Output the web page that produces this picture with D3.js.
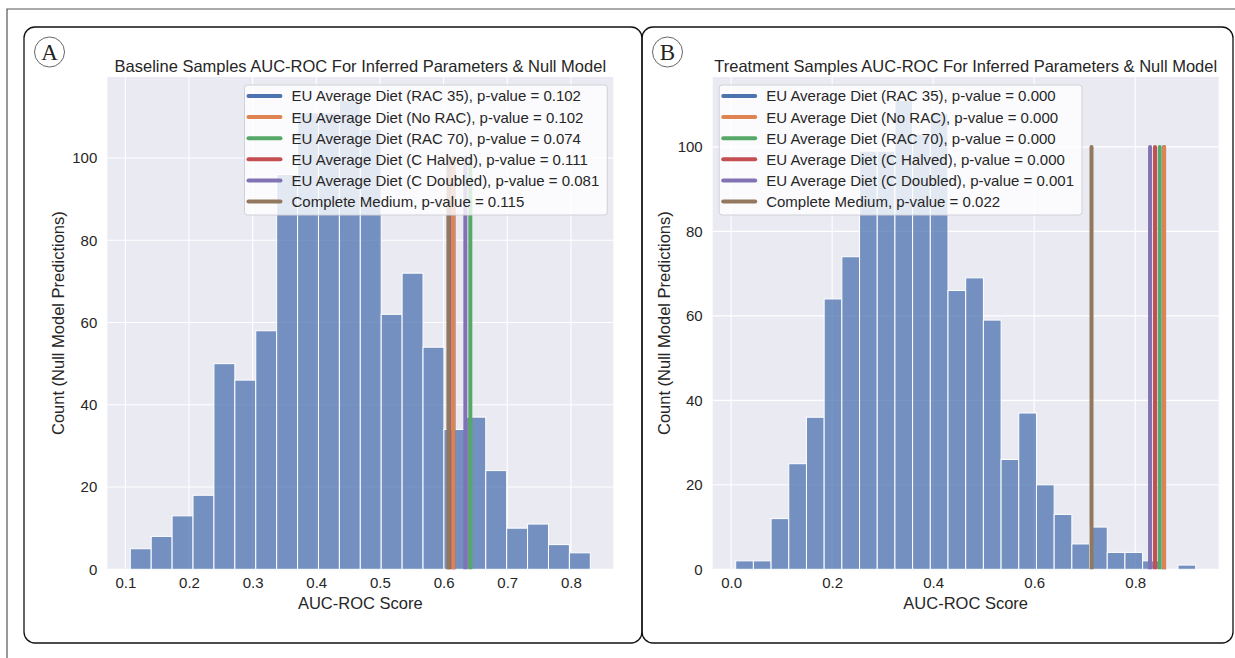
<!DOCTYPE html>
<html>
<head>
<meta charset="utf-8">
<script src="https://cdn.jsdelivr.net/npm/d3@7"></script>
<style>
  body { margin: 0; background: #fff; }
  svg text { font-family: "Liberation Sans", Arial, sans-serif; fill: #262626; }
</style>
</head>
<body>
<svg id="fig" width="1235" height="658"></svg>
<script>
// histogram bins (AUC-ROC of null model predictions)
const baseBinStart = 0.1078, baseBinWidth = 0.03285;
const baseCounts = [5, 8, 13, 18, 50, 46, 58, 96, 111, 111, 114, 107, 62, 72, 54, 34, 37, 24, 10, 11, 6, 4];
const treatBinStart = 0.0091, treatBinWidth = 0.03502;
const treatCounts = [2, 2, 12, 25, 36, 64, 74, 99, 99, 111, 103, 108, 66, 69, 59, 26, 37, 20, 13, 6, 10, 4, 4, 2, 0, 1];

// inferred parameter sets
const seriesNames = ["EU Average Diet (RAC 35)", "EU Average Diet (No RAC)", "EU Average Diet (RAC 70)",
  "EU Average Diet (C Halved)", "EU Average Diet (C Doubled)", "Complete Medium"];
const basePValues = ["0.102", "0.102", "0.074", "0.111", "0.081", "0.115"];
const baseAuc = [0.6154, 0.6154, 0.642, 0.6085, 0.6342, 0.6076];
const treatPValues = ["0.000", "0.000", "0.000", "0.000", "0.001", "0.022"];
const treatAuc = [0.857, 0.857, 0.8484, 0.8391, 0.8293, 0.7134];
const lineHeight = 100;

const baseTicks = [0.1, 0.2, 0.3, 0.4, 0.5, 0.6, 0.7, 0.8];
const treatTicks = [0.0, 0.2, 0.4, 0.6, 0.8];
const countTicks = [0, 20, 40, 60, 80, 100];

const palette = ["#4c72b0", "#dd8452", "#55a868", "#c44e52", "#8172b3", "#937860"];

const svg = d3.select("#fig");

// outer frame
svg.append("path")
  .attr("d", "M7,658 L7,9 L1235,9")
  .attr("fill", "none").attr("stroke", "#555").attr("stroke-width", 1.2);

function drawPanel(o) {
  // rounded panel box
  svg.append("rect")
    .attr("x", o.box[0]).attr("y", 27)
    .attr("width", o.box[1] - o.box[0]).attr("height", 616)
    .attr("rx", 11)
    .attr("fill", "none").attr("stroke", "#111").attr("stroke-width", 1.3);

  svg.append("circle")
    .attr("cx", o.box[0] + 25.5).attr("cy", 52).attr("r", 15)
    .attr("fill", "none").attr("stroke", "#666").attr("stroke-width", 1);
  svg.append("text")
    .attr("x", o.box[0] + 25.5).attr("y", 59.5)
    .attr("text-anchor", "middle")
    .style("font-family", "'Liberation Serif', 'DejaVu Serif', serif")
    .style("font-size", "23px")
    .style("fill", "#222")
    .text(o.letter);

  const left = o.left, top = 77, w = 506, h = 492.3;
  const bins = o.counts.map((c, i) => ({x0: o.binStart + i * o.binWidth, x1: o.binStart + (i + 1) * o.binWidth, n: c}));
  const lo = bins[0].x0, hi = bins[bins.length - 1].x1;
  const pad = (hi - lo) * 0.05;
  const x = d3.scaleLinear().domain([lo - pad, hi + pad]).range([left, left + w]);
  const yMax = d3.max([d3.max(o.counts), lineHeight]) * 1.05;
  const y = d3.scaleLinear().domain([0, yMax]).range([top + h, top]);

  const clipId = "clip" + o.letter;
  svg.append("clipPath").attr("id", clipId)
    .append("rect").attr("x", left).attr("y", top).attr("width", w).attr("height", h);

  const g = svg.append("g");
  g.append("rect")
    .attr("x", left).attr("y", top).attr("width", w).attr("height", h)
    .attr("fill", "#eaeaf2");

  // grid
  g.selectAll(".vgrid").data(o.ticks).join("line")
    .attr("x1", d => x(d)).attr("x2", d => x(d))
    .attr("y1", top).attr("y2", top + h)
    .attr("stroke", "#fff").attr("stroke-width", 1.1);
  g.selectAll(".hgrid").data(countTicks).join("line")
    .attr("y1", d => y(d)).attr("y2", d => y(d))
    .attr("x1", left).attr("x2", left + w)
    .attr("stroke", "#fff").attr("stroke-width", 1.1);

  // histogram
  g.selectAll(".bar").data(bins).join("rect")
    .attr("x", d => x(d.x0)).attr("width", d => x(d.x1) - x(d.x0))
    .attr("y", d => y(d.n)).attr("height", d => y(0) - y(d.n))
    .attr("fill", "#4c72b0").attr("fill-opacity", 0.75)
    .attr("stroke", "#fff").attr("stroke-width", 1);

  // inferred parameter lines
  const lines = o.auc.map((a, i) => ({a: a, i: i}));
  g.append("g").attr("clip-path", "url(#" + clipId + ")")
    .selectAll("line").data(lines).join("line")
    .attr("x1", d => x(d.a)).attr("x2", d => x(d.a))
    .attr("y1", y(0) + 3).attr("y2", y(lineHeight))
    .attr("stroke", d => palette[d.i]).attr("stroke-width", 4)
    .attr("stroke-linecap", "round");

  // axes
  const xa = g.append("g").attr("transform", "translate(0," + (top + h) + ")")
    .call(d3.axisBottom(x).tickValues(o.ticks).tickSize(0).tickPadding(8).tickFormat(d3.format(".1f")));
  xa.select(".domain").remove();
  xa.selectAll("text").style("font-size", "15px").attr("fill", "#262626");

  const ya = g.append("g").attr("transform", "translate(" + left + ",0)")
    .call(d3.axisLeft(y).tickValues(countTicks).tickSize(0).tickPadding(10));
  ya.select(".domain").remove();
  ya.selectAll("text").style("font-size", "15px").attr("fill", "#262626");

  // titles
  svg.append("text")
    .attr("x", left + w / 2).attr("y", 72)
    .attr("text-anchor", "middle").style("font-size", "16.5px")
    .text(o.title);
  svg.append("text")
    .attr("x", left + w / 2).attr("y", 609)
    .attr("text-anchor", "middle").style("font-size", "16.5px")
    .text("AUC-ROC Score");
  svg.append("text")
    .attr("transform", "translate(" + (left - 43) + "," + (top + h / 2) + ") rotate(-90)")
    .attr("text-anchor", "middle").style("font-size", "16.5px")
    .text("Count (Null Model Predictions)");

  // legend
  const lg = svg.append("g");
  const box = lg.append("rect")
    .attr("y", top + 8).attr("height", 130).attr("rx", 3)
    .attr("fill", "#fff").attr("fill-opacity", 0.8)
    .attr("stroke", "#d0d0d8").attr("stroke-width", 1);
  const rows = lg.selectAll(".row").data(seriesNames).join("g")
    .attr("transform", (d, i) => "translate(0," + (top + 19 + i * 21.1) + ")");
  rows.append("line")
    .attr("x1", 4).attr("x2", 36)
    .attr("stroke", (d, i) => palette[i]).attr("stroke-width", 4).attr("stroke-linecap", "round");
  const txt = rows.append("text")
    .attr("x", 47).attr("dy", "0.36em")
    .style("font-size", "15px")
    .text((d, i) => d + ", p-value = " + o.pvals[i]);
  const tw = d3.max(txt.nodes(), n => n.getComputedTextLength());
  const lw = 47 + tw + 8;
  const lx = o.legendRight ? left + w - 6 - lw : left + 6.5;
  box.attr("x", 0).attr("width", lw);
  lg.attr("transform", "translate(" + lx + ",0)");
}

drawPanel({
  letter: "A", box: [24, 642], left: 107.3,
  title: "Baseline Samples AUC-ROC For Inferred Parameters & Null Model",
  binStart: baseBinStart, binWidth: baseBinWidth, counts: baseCounts,
  auc: baseAuc, pvals: basePValues, ticks: baseTicks, legendRight: true
});
drawPanel({
  letter: "B", box: [642, 1233], left: 712.7,
  title: "Treatment Samples AUC-ROC For Inferred Parameters & Null Model",
  binStart: treatBinStart, binWidth: treatBinWidth, counts: treatCounts,
  auc: treatAuc, pvals: treatPValues, ticks: treatTicks, legendRight: false
});
</script>
</body>
</html>
